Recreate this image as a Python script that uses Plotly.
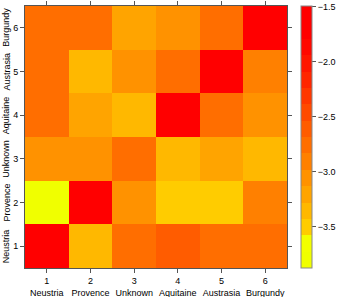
import plotly.graph_objects as go

regions = ["Neustria", "Provence", "Unknown", "Aquitaine", "Austrasia", "Burgundy"]
positions = [1, 2, 3, 4, 5, 6]

# rows: y = 1..6 (Neustria .. Burgundy); columns: x = 1..6
row_neustria = [-1.55, -3.35, -2.74, -2.62, -2.77, -2.76]
row_provence = [-3.873, -1.58, -3.04, -3.50, -3.52, -2.90]
row_unknown = [-3.02, -3.07, -2.73, -3.36, -3.19, -3.34]
row_aquitaine = [-2.75, -3.21, -3.37, -1.491, -2.78, -3.06]
row_austrasia = [-2.76, -3.33, -3.05, -2.72, -1.53, -2.92]
row_burgundy = [-2.77, -2.75, -3.22, -3.03, -2.76, -1.56]

cbar_ticks = [-1.5, -2.0, -2.5, -3.0, -3.5]

band_colors = ["#F0FF00", "#F3FF00", "#FFCC00", "#FFB800", "#FFA400", "#FF9200",
               "#FF8000", "#FF6E00", "#FF5C00", "#FF4A00", "#FF3800", "#FF2600",
               "#FF1600", "#FF0800", "#FF0000", "#FF0000"]
n = len(band_colors)
colorscale = []
for i, c in enumerate(band_colors):
    colorscale.append([i / n, c])
    colorscale.append([(i + 1) / n, c])

z = [row_neustria, row_provence, row_unknown, row_aquitaine, row_austrasia, row_burgundy]

font = dict(family="Liberation Sans, Arial, sans-serif", size=9, color="#000000")
axcol = "#555555"

fig = go.Figure(go.Heatmap(
    z=z, x=positions, y=positions, colorscale=colorscale,
    colorbar=dict(
        x=(301 - 25) / 262, xanchor="left", y=0.5, yanchor="middle",
        len=1, lenmode="fraction", thickness=11, xpad=0, ypad=0,
        outlinewidth=1, outlinecolor="#888888",
        tickvals=cbar_ticks, ticktext=[f"{v:.1f}".replace("-", "−") for v in cbar_ticks],
        ticks="outside", ticklen=4, tickcolor="#555555", tickfont=font,
    ),
))

fig.update_xaxes(
    range=[0.5, 6.5], tickvals=positions,
    ticktext=[f"{p}<br>{r}" for p, r in zip(positions, regions)],
    ticks="outside", ticklen=4, tickcolor=axcol, showline=True, linecolor=axcol,
    linewidth=1, mirror="ticks", showgrid=False, zeroline=False, tickfont=font,
    automargin=False,
)
fig.update_yaxes(
    range=[0.5, 6.5], tickvals=positions, ticktext=[str(p) for p in positions],
    ticks="outside", ticklen=4, tickcolor=axcol, showline=True, linecolor=axcol,
    linewidth=1, mirror="ticks", showgrid=False, zeroline=False, tickfont=font,
    automargin=False,
)

for p, r in zip(positions, regions):
    fig.add_annotation(x=(6 - 25) / 262, xref="paper", y=p, yref="y", text=r,
                       textangle=-90, showarrow=False, font=font,
                       xanchor="center", yanchor="middle")

fig.update_layout(
    width=338, height=297,
    margin=dict(l=25, r=51, t=6, b=29, autoexpand=False),
    paper_bgcolor="white", plot_bgcolor="white", font=font,
)

fig.write_html("out.html", config={"displayModeBar": False},
               post_script="document.body.style.margin='0';document.body.style.overflow='hidden';")
